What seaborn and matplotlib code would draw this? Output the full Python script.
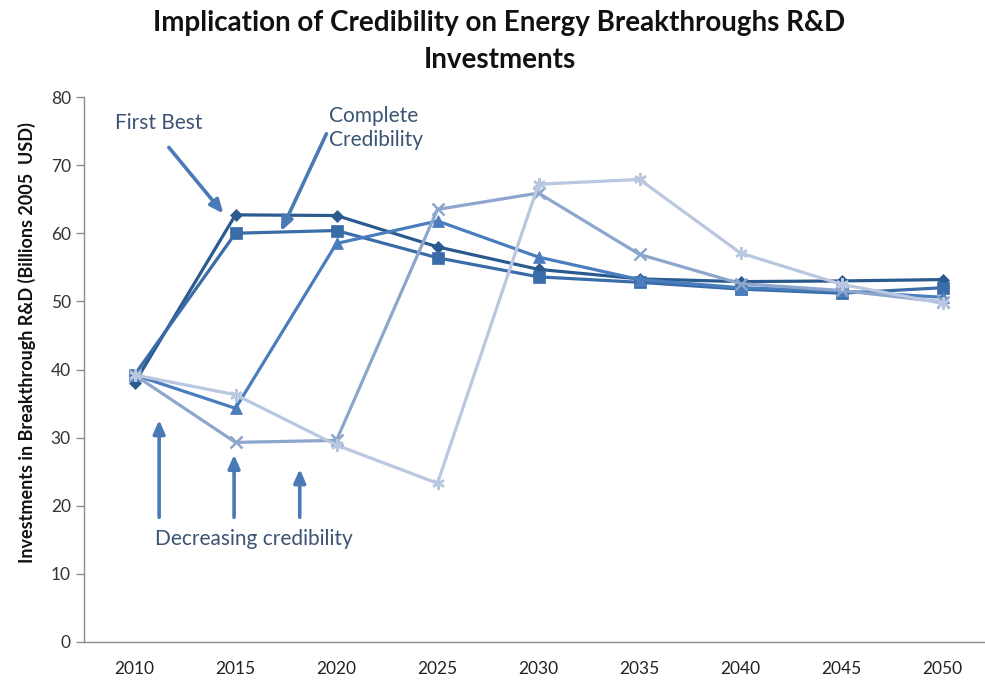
import numpy as np
import pandas as pd
import matplotlib
matplotlib.use("Agg")
import matplotlib.pyplot as plt
import seaborn as sns

sns.set_style("white")
plt.rcParams['font.family'] = ['Lato', 'DejaVu Sans']

# ── Data ──────────────────────────────────────────────────────
years = [2010, 2015, 2020, 2025, 2030, 2035, 2040, 2045, 2050]

first_best    = [38.0, 62.7, 62.6, 58.0, 54.7, 53.3, 52.9, 53.0, 53.2]
complete_cred = [39.2, 60.0, 60.4, 56.4, 53.6, 52.8, 51.8, 51.2, 52.0]
cred_delay_1  = [39.2, 34.3, 58.5, 61.8, 56.5, 53.2, 52.0, 51.5, 50.6]
cred_delay_2  = [39.2, 29.3, 29.6, 63.5, 65.9, 56.9, 52.6, 51.6, 49.9]
cred_delay_3  = [39.2, 36.3, 28.9, 23.3, 67.2, 67.9, 57.1, 52.5, 49.7]

series_names  = ["First Best", "Complete Credibility", "Delay 1", "Delay 2", "Delay 3"]
series_values = [first_best, complete_cred, cred_delay_1, cred_delay_2, cred_delay_3]
colors  = ["#2B5A8E", "#3A6CA8", "#4A7DBE", "#8DA6CD", "#B9C8E0"]
markers = ["D", "s", "^", "x", (6, 2, 0)]
msizes  = [6, 8, 8, 8, 9]

df = pd.DataFrame({
    'year': years * len(series_names),
    'value': sum(series_values, []),
    'series': np.repeat(series_names, len(years)),
})

# ── Figure ────────────────────────────────────────────────────
fig = plt.figure(figsize=(9.85, 6.83), dpi=100, facecolor='white')
ax = fig.add_axes([84 / 985, 41 / 683, 909 / 985, 545 / 683])

for name, col, mk, ms in zip(series_names, colors, markers, msizes):
    sns.lineplot(
        data=df[df['series'] == name], x='year', y='value',
        ax=ax, color=col, marker=mk, markersize=ms, linewidth=2.3,
        markeredgecolor=col, markeredgewidth=1.8 if mk in ("x", (6, 2, 0)) else 0.5,
        legend=False,
    )

ax.set_xlim(2007.5, 2052.5)
ax.set_ylim(0, 80)
ax.set_yticks(range(0, 81, 10))
ax.set_xticks(years)
ax.set_xticks([2007.5 + 5 * k for k in range(10)], minor=True)
ax.tick_params(axis='x', which='major', length=0, pad=14, labelsize=12.5, labelcolor='#222222')
ax.tick_params(axis='x', which='minor', length=6, width=1, color='#8C8C8C', direction='out')
ax.tick_params(axis='y', length=6, width=1, color='#8C8C8C', direction='out',
               labelsize=12.5, labelcolor='#333333', left=True)
ax.set_xlabel("")
ax.set_ylabel("Investments in Breakthrough R&D (Billions 2005  USD)",
              fontsize=13, fontweight='bold', color='#111111')
ax.yaxis.set_label_coords(-0.053, 0.55)

for side in ['top', 'right']:
    ax.spines[side].set_visible(False)
for side in ['left', 'bottom']:
    ax.spines[side].set_color('#8C8C8C')
    ax.spines[side].set_linewidth(1)

# ── Title ─────────────────────────────────────────────────────
fig.text(0.507, 1 - 10.5 / 683,
         "Implication of Credibility on Energy Breakthroughs R&D\nInvestments",
         ha='center', va='top', fontsize=20, fontweight='bold',
         color='#111111', linespacing=1.5)

# ── Annotations ───────────────────────────────────────────────
txt_col = '#3C5473'
arr_col = '#4A7AB5'
arrow = dict(arrowstyle='-|>,head_width=0.35,head_length=0.8',
             color=arr_col, lw=2.6, shrinkA=0, shrinkB=0)

ax.text(2011.2, 76.2, "First Best", ha='center', va='center',
        fontsize=15, color=txt_col)
ax.annotate("", xy=(2014.4, 62.9), xytext=(2011.7, 72.6), arrowprops=arrow)

ax.text(2019.65, 75.4, "Complete\nCredibility", ha='left', va='center',
        fontsize=15, color=txt_col, linespacing=1.25)
ax.annotate("", xy=(2017.25, 60.3), xytext=(2019.5, 74.6), arrowprops=arrow)

ax.text(2015.9, 15.1, "Decreasing credibility", ha='center', va='center',
        fontsize=15, color=txt_col)
for xa, ytop in [(2011.22, 32.6), (2014.93, 27.5), (2018.18, 25.4)]:
    ax.annotate("", xy=(xa, ytop), xytext=(xa, 18.3), arrowprops=arrow)

fig.savefig("out.png", dpi=100, facecolor='white')
